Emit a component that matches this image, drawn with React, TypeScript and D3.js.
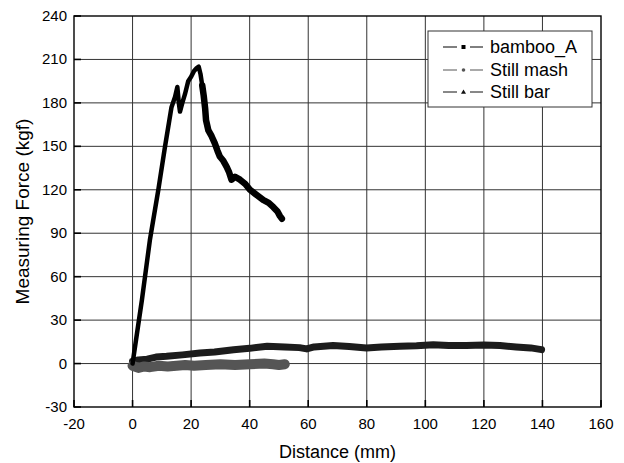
import React from "react";
import * as d3 from "d3";

const xTicks = [-20, 0, 20, 40, 60, 80, 100, 120, 140, 160];
const yTicks = [-30, 0, 30, 60, 90, 120, 150, 180, 210, 240];

const bambooX = [0, 1.2, 3.2, 5.9, 8.8, 11.1, 13.3, 14.5, 15.3, 15.8, 16.2, 17, 17.9, 19, 20, 21, 21.9, 22.6, 23.2, 23.8, 24.3, 24.8, 25.1, 25.9, 27, 28.1, 29, 29.8, 31, 32.1, 33, 33.8, 35, 36.7, 38.5, 40.1, 42, 44.6, 46.5, 48.1, 49.5, 50.3, 51];
const bambooY = [0, 16.5, 44, 85, 120, 150, 177, 184, 191, 180, 174, 180, 186, 195, 198, 202, 204, 205, 200, 192, 185, 176, 168, 161, 157, 152, 147, 143, 140, 136, 132, 127, 129, 127, 124, 120, 117, 113, 111, 108, 105, 102, 100];

const mashX = [0, 2, 4, 6, 9, 12, 15, 18, 21, 25, 30, 35, 40, 45, 48, 50, 52];
const mashY = [-1.5, -3, -2, -2.5, -1.5, -2, -1.5, -1, -1.5, -1, -0.5, -1, -0.5, 0, -0.5, -1, -0.5];

const barX = [0, 2, 5, 8, 11.6, 17, 23, 28, 34.5, 40, 46, 52, 57, 59.5, 62, 68.5, 74, 79.9, 85, 91.3, 97, 102.7, 108, 114, 120, 125.5, 131, 136, 139.7];
const barY = [1.6, 2.5, 3, 4.5, 5, 6, 7.3, 8, 9.6, 10.5, 12, 11.5, 11, 10.1, 11.5, 12.4, 11.8, 10.8, 11.5, 12, 12.3, 13, 12.5, 12.4, 12.8, 12.4, 11.5, 10.8, 9.6];

const legendLabels = ["bamboo_A", "Still mash", "Still bar"];

const FONT = "Arial, 'Liberation Sans', sans-serif";

export default function App() {
  const left = 74, right = 601, top = 16, bottom = 407;
  const x = d3.scaleLinear().domain([-20, 160]).range([left, right]);
  const y = d3.scaleLinear().domain([-30, 240]).range([bottom, top]);
  const line = (xs: number[], ys: number[]) =>
    d3.line<number>().x((_, i) => x(xs[i])).y((_, i) => y(ys[i]))(xs.map((_, i) => i)) || "";

  const peakIdx = bambooY.indexOf(d3.max(bambooY) as number);
  const descX = bambooX.slice(peakIdx + 2);
  const descY = bambooY.slice(peakIdx + 2);

  const legendX = 428, legendY = 31;
  const rowY = [47, 70, 92];
  const legendColors = ["#000", "#555", "#111"];

  return (
    <svg width={624} height={463} style={{ position: "absolute", left: 0, top: 0, background: "#fff" }} fontFamily={FONT}>
      <rect x={0} y={0} width={624} height={463} fill="#fff" />
      {/* grid */}
      {xTicks.slice(1, -1).map((t) => (
        <line key={"gx" + t} x1={x(t)} x2={x(t)} y1={top} y2={bottom} stroke="#333" strokeWidth={1} />
      ))}
      {yTicks.slice(1, -1).map((t) => (
        <line key={"gy" + t} x1={left} x2={right} y1={y(t)} y2={y(t)} stroke="#333" strokeWidth={1} />
      ))}
      {/* ticks inward */}
      {xTicks.map((t) => (
        <line key={"tx" + t} x1={x(t)} x2={x(t)} y1={bottom} y2={bottom - 7} stroke="#000" strokeWidth={1.6} />
      ))}
      {yTicks.map((t) => (
        <line key={"ty" + t} x1={left} x2={left + 7} y1={y(t)} y2={y(t)} stroke="#000" strokeWidth={1.6} />
      ))}
      {/* data */}
      <path d={line(barX, barY)} fill="none" stroke="#1c1c1c" strokeWidth={7} strokeLinejoin="round" strokeLinecap="round" />
      <path d={line(mashX, mashY)} fill="none" stroke="#555" strokeWidth={10} strokeLinejoin="round" strokeLinecap="round" />
      <path d={line(bambooX, bambooY)} fill="none" stroke="#000" strokeWidth={4.5} strokeLinejoin="round" strokeLinecap="round" />
      <path d={line(descX, descY)} fill="none" stroke="#000" strokeWidth={6.5} strokeLinejoin="round" strokeLinecap="round" />
      {/* frame */}
      <rect x={left} y={top} width={right - left} height={bottom - top} fill="none" stroke="#000" strokeWidth={1.4} />
      {/* tick labels */}
      {xTicks.map((t) => (
        <text key={"lx" + t} x={x(t)} y={429} textAnchor="middle" fontSize={15} fill="#000">{t}</text>
      ))}
      {yTicks.map((t) => (
        <text key={"ly" + t} x={67} y={y(t) + 5} textAnchor="end" fontSize={15} fill="#000">{t}</text>
      ))}
      {/* axis titles */}
      <text x={(left + right) / 2} y={458} textAnchor="middle" fontSize={18} fill="#000">Distance (mm)</text>
      <text transform={`translate(29, ${(top + bottom) / 2}) rotate(-90)`} textAnchor="middle" fontSize={19} fill="#000">Measuring Force (kgf)</text>
      {/* legend */}
      <rect x={legendX} y={legendY} width={164} height={76} fill="#fff" stroke="#333" strokeWidth={1} />
      {legendLabels.map((lab, i) => (
        <g key={lab}>
          <line x1={443} x2={457} y1={rowY[i]} y2={rowY[i]} stroke={legendColors[i]} strokeWidth={1} />
          <line x1={470} x2={483} y1={rowY[i]} y2={rowY[i]} stroke={legendColors[i]} strokeWidth={1} />
          {i === 0 && <rect x={461.5} y={rowY[i] - 2} width={4} height={4} fill="#000" />}
          {i === 1 && <circle cx={463.5} cy={rowY[i]} r={1.8} fill="#555" />}
          {i === 2 && <path d={`M${463.5},${rowY[i] - 2.5} L${466},${rowY[i] + 1.8} L${461},${rowY[i] + 1.8} Z`} fill="#111" />}
          <text x={490} y={rowY[i] + 6} fontSize={18} fill="#000">{lab}</text>
        </g>
      ))}
    </svg>
  );
}
